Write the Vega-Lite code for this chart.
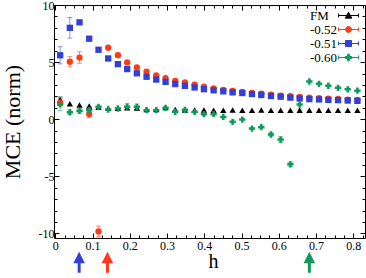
{
"$schema": "https://vega.github.io/schema/vega-lite/v6.json",
"width": 311, "height": 233,
"autosize": {"type": "none"},
"padding": {"left": 54, "top": 5, "right": 1, "bottom": 40},
"background": "white",
"config": {"view": {"stroke": null}, "font": "Liberation Serif",
  "axis": {"domainColor": "black", "tickColor": "black", "labelColor": "black", "titleColor": "black", "grid": false, "labelFont": "Liberation Serif", "titleFont": "Liberation Serif", "titleFontWeight": "normal", "labelFontSize": 12, "tickWidth": 1, "domainWidth": 1}},
"datasets": {
"pts": [
{"s":"FM","h":0.013,"v":1.7,"e":0.25},{"s":"FM","h":0.039,"v":1.35,"e":0},{"s":"FM","h":0.065,"v":1.25,"e":0},{"s":"FM","h":0.091,"v":1.15,"e":0},{"s":"FM","h":0.116,"v":1.05,"e":0},{"s":"FM","h":0.142,"v":0.97,"e":0},{"s":"FM","h":0.168,"v":0.95,"e":0},{"s":"FM","h":0.193,"v":1.0,"e":0},{"s":"FM","h":0.219,"v":0.98,"e":0},{"s":"FM","h":0.245,"v":0.85,"e":0},{"s":"FM","h":0.271,"v":0.85,"e":0},{"s":"FM","h":0.296,"v":1.02,"e":0},{"s":"FM","h":0.322,"v":0.85,"e":0},{"s":"FM","h":0.348,"v":0.8,"e":0},{"s":"FM","h":0.374,"v":0.8,"e":0},{"s":"FM","h":0.399,"v":0.8,"e":0},{"s":"FM","h":0.425,"v":0.79,"e":0},{"s":"FM","h":0.451,"v":0.79,"e":0},{"s":"FM","h":0.476,"v":0.8,"e":0},{"s":"FM","h":0.502,"v":0.79,"e":0},{"s":"FM","h":0.528,"v":0.79,"e":0},{"s":"FM","h":0.553,"v":0.8,"e":0},{"s":"FM","h":0.579,"v":0.79,"e":0},{"s":"FM","h":0.605,"v":0.79,"e":0},{"s":"FM","h":0.631,"v":0.79,"e":0},{"s":"FM","h":0.656,"v":0.79,"e":0},{"s":"FM","h":0.682,"v":0.79,"e":0},{"s":"FM","h":0.708,"v":0.79,"e":0},{"s":"FM","h":0.733,"v":0.79,"e":0},{"s":"FM","h":0.759,"v":0.79,"e":0},{"s":"FM","h":0.785,"v":0.79,"e":0},{"s":"FM","h":0.811,"v":0.79,"e":0},
{"s":"-0.52","h":0.013,"v":1.45,"e":0.3},{"s":"-0.52","h":0.039,"v":5.03,"e":0.45},{"s":"-0.52","h":0.065,"v":5.4,"e":0.5},{"s":"-0.52","h":0.091,"v":0.45,"e":0.3},{"s":"-0.52","h":0.116,"v":-9.82,"e":0.47},{"s":"-0.52","h":0.142,"v":6.26,"e":0},{"s":"-0.52","h":0.168,"v":5.61,"e":0},{"s":"-0.52","h":0.193,"v":4.97,"e":0},{"s":"-0.52","h":0.219,"v":4.53,"e":0},{"s":"-0.52","h":0.245,"v":4.17,"e":0},{"s":"-0.52","h":0.271,"v":3.83,"e":0},{"s":"-0.52","h":0.296,"v":3.6,"e":0},{"s":"-0.52","h":0.322,"v":3.35,"e":0},{"s":"-0.52","h":0.348,"v":3.22,"e":0},{"s":"-0.52","h":0.374,"v":3.03,"e":0},{"s":"-0.52","h":0.399,"v":2.86,"e":0},{"s":"-0.52","h":0.425,"v":2.7,"e":0},{"s":"-0.52","h":0.451,"v":2.57,"e":0},{"s":"-0.52","h":0.476,"v":2.47,"e":0},{"s":"-0.52","h":0.502,"v":2.4,"e":0},{"s":"-0.52","h":0.528,"v":2.3,"e":0},{"s":"-0.52","h":0.553,"v":2.23,"e":0},{"s":"-0.52","h":0.579,"v":2.14,"e":0},{"s":"-0.52","h":0.605,"v":2.06,"e":0},{"s":"-0.52","h":0.631,"v":2.01,"e":0},{"s":"-0.52","h":0.656,"v":1.95,"e":0},{"s":"-0.52","h":0.682,"v":1.89,"e":0},{"s":"-0.52","h":0.708,"v":1.85,"e":0},{"s":"-0.52","h":0.733,"v":1.8,"e":0},{"s":"-0.52","h":0.759,"v":1.77,"e":0},{"s":"-0.52","h":0.785,"v":1.72,"e":0},{"s":"-0.52","h":0.811,"v":1.68,"e":0},
{"s":"-0.51","h":0.013,"v":5.6,"e":0.75},{"s":"-0.51","h":0.039,"v":8.0,"e":0.9},{"s":"-0.51","h":0.065,"v":8.48,"e":0},{"s":"-0.51","h":0.091,"v":7.05,"e":0},{"s":"-0.51","h":0.116,"v":6.08,"e":0},{"s":"-0.51","h":0.142,"v":5.32,"e":0},{"s":"-0.51","h":0.168,"v":4.82,"e":0},{"s":"-0.51","h":0.193,"v":4.39,"e":0},{"s":"-0.51","h":0.219,"v":4.02,"e":0},{"s":"-0.51","h":0.245,"v":3.72,"e":0},{"s":"-0.51","h":0.271,"v":3.47,"e":0},{"s":"-0.51","h":0.296,"v":3.27,"e":0},{"s":"-0.51","h":0.322,"v":3.08,"e":0},{"s":"-0.51","h":0.348,"v":2.92,"e":0},{"s":"-0.51","h":0.374,"v":2.78,"e":0},{"s":"-0.51","h":0.399,"v":2.63,"e":0},{"s":"-0.51","h":0.425,"v":2.53,"e":0},{"s":"-0.51","h":0.451,"v":2.44,"e":0},{"s":"-0.51","h":0.476,"v":2.35,"e":0},{"s":"-0.51","h":0.502,"v":2.29,"e":0},{"s":"-0.51","h":0.528,"v":2.2,"e":0},{"s":"-0.51","h":0.553,"v":2.12,"e":0},{"s":"-0.51","h":0.579,"v":2.03,"e":0},{"s":"-0.51","h":0.605,"v":1.97,"e":0},{"s":"-0.51","h":0.631,"v":1.89,"e":0},{"s":"-0.51","h":0.656,"v":1.82,"e":0},{"s":"-0.51","h":0.682,"v":1.76,"e":0},{"s":"-0.51","h":0.708,"v":1.73,"e":0},{"s":"-0.51","h":0.733,"v":1.69,"e":0},{"s":"-0.51","h":0.759,"v":1.67,"e":0},{"s":"-0.51","h":0.785,"v":1.64,"e":0},{"s":"-0.51","h":0.811,"v":1.61,"e":0},
{"s":"-0.60","h":0.013,"v":1.3,"e":0.55},{"s":"-0.60","h":0.039,"v":0.61,"e":0.2},{"s":"-0.60","h":0.065,"v":0.73,"e":0.2},{"s":"-0.60","h":0.091,"v":0.79,"e":0.25},{"s":"-0.60","h":0.116,"v":1.08,"e":0},{"s":"-0.60","h":0.142,"v":0.85,"e":0},{"s":"-0.60","h":0.168,"v":0.94,"e":0},{"s":"-0.60","h":0.193,"v":1.1,"e":0.25},{"s":"-0.60","h":0.219,"v":1.08,"e":0.25},{"s":"-0.60","h":0.245,"v":0.79,"e":0},{"s":"-0.60","h":0.271,"v":0.79,"e":0},{"s":"-0.60","h":0.296,"v":1.0,"e":0},{"s":"-0.60","h":0.322,"v":0.65,"e":0},{"s":"-0.60","h":0.348,"v":0.82,"e":0},{"s":"-0.60","h":0.374,"v":0.64,"e":0},{"s":"-0.60","h":0.399,"v":0.44,"e":0},{"s":"-0.60","h":0.425,"v":0.44,"e":0},{"s":"-0.60","h":0.451,"v":0.2,"e":0},{"s":"-0.60","h":0.476,"v":-0.23,"e":0},{"s":"-0.60","h":0.502,"v":-0.03,"e":0},{"s":"-0.60","h":0.528,"v":-0.82,"e":0},{"s":"-0.60","h":0.553,"v":-0.7,"e":0},{"s":"-0.60","h":0.579,"v":-1.34,"e":0.15},{"s":"-0.60","h":0.605,"v":-1.78,"e":0.25},{"s":"-0.60","h":0.631,"v":-3.95,"e":0.2},{"s":"-0.60","h":0.656,"v":1.29,"e":0.4},{"s":"-0.60","h":0.682,"v":3.3,"e":0},{"s":"-0.60","h":0.708,"v":3.1,"e":0},{"s":"-0.60","h":0.733,"v":2.93,"e":0},{"s":"-0.60","h":0.759,"v":2.75,"e":0},{"s":"-0.60","h":0.785,"v":2.62,"e":0},{"s":"-0.60","h":0.811,"v":2.5,"e":0}
],
"arrows": [
{"s":"-0.51","h":0.064,"v":-12.52},{"s":"-0.52","h":0.14,"v":-12.52},{"s":"-0.60","h":0.682,"v":-12.52}
]
},
"layer": [
{
"encoding": {
  "x": {"field": "h", "type": "quantitative", "scale": {"domain": [-0.0035, 0.8314], "nice": false, "zero": false},
    "axis": {"orient": "bottom", "title": "h", "titleFontSize": 20, "titleBaseline": "alphabetic", "titleY": 29, "titleX": 159,
      "values": [0,0.025,0.05,0.075,0.1,0.125,0.15,0.175,0.2,0.225,0.25,0.275,0.3,0.325,0.35,0.375,0.4,0.425,0.45,0.475,0.5,0.525,0.55,0.575,0.6,0.625,0.65,0.675,0.7,0.725,0.75,0.775,0.8,0.825],
      "labelExpr": "abs(datum.value*10 - round(datum.value*10)) < 0.001 ? (datum.value === 0 ? '0' : format(datum.value, '.1f')) : ''",
      "labelOverlap": false, "labelFlush": false, "labelBound": false, "labelPadding": 7,
      "tickSize": {"condition": {"test": "abs(datum.value*10 - round(datum.value*10)) < 0.001", "value": -5}, "value": -3}}},
  "y": {"field": "v", "type": "quantitative", "scale": {"domain": [-10.4, 10], "nice": false, "zero": false},
    "axis": {"orient": "left", "title": "MCE (norm)", "titleFontSize": 22, "titleBaseline": "alphabetic", "titleX": -34.5, "titleAngle": -90,
      "values": [-10,-9,-8,-7,-6,-5,-4,-3,-2,-1,0,1,2,3,4,5,6,7,8,9,10],
      "labelExpr": "datum.value % 5 === 0 ? '' + datum.value : ''",
      "labelOverlap": false, "labelFlush": false, "labelBound": false, "labelPadding": 5,
      "tickSize": {"condition": {"test": "datum.value % 5 === 0", "value": -5}, "value": -3}}},
  "color": {"field": "s", "type": "nominal",
    "scale": {"domain": ["FM", "-0.52", "-0.51", "-0.60"], "range": ["#000000", "#ff3a14", "#3240d4", "#0f9a5c"]},
    "legend": null}
},
"layer": [
  {"data": {"name": "pts"}, "transform": [{"filter": "datum.e > 0"}],
   "mark": {"type": "errorbar", "ticks": true, "size": 5, "thickness": 1, "opacity": 0.55},
   "encoding": {"yError": {"field": "e"}}},
  {"data": {"name": "pts"},
   "mark": {"type": "point", "filled": true, "opacity": 1, "size": 40},
   "encoding": {"shape": {"field": "s", "type": "nominal", "scale": {"domain": ["FM", "-0.52", "-0.51", "-0.60"], "range": ["triangle-up", "circle", "square", "cross"]}, "legend": null}}},
  {"data": {"name": "arrows"},
   "mark": {"type": "point", "filled": true, "opacity": 1, "size": 441, "shape": "M0,-1L0.55,0.1L0.14,0.1L0.14,1L-0.14,1L-0.14,0.1L-0.55,0.1Z"}}
]
},
{
"data": {"name": "pts"},
"mark": {"type": "point", "opacity": 0, "filled": true, "size": 44, "strokeWidth": 1},
"encoding": {
  "x": {"field": "h", "type": "quantitative", "scale": {"domain": [-0.0035, 0.8314], "nice": false, "zero": false},
    "axis": {"orient": "top", "title": null, "labels": false,
      "values": [0,0.025,0.05,0.075,0.1,0.125,0.15,0.175,0.2,0.225,0.25,0.275,0.3,0.325,0.35,0.375,0.4,0.425,0.45,0.475,0.5,0.525,0.55,0.575,0.6,0.625,0.65,0.675,0.7,0.725,0.75,0.775,0.8,0.825],
      "tickSize": {"condition": {"test": "abs(datum.value*10 - round(datum.value*10)) < 0.001", "value": -5}, "value": -3}}},
  "y": {"field": "v", "type": "quantitative", "scale": {"domain": [-10.4, 10], "nice": false, "zero": false},
    "axis": {"orient": "right", "title": null, "labels": false,
      "values": [-10,-9,-8,-7,-6,-5,-4,-3,-2,-1,0,1,2,3,4,5,6,7,8,9,10],
      "tickSize": {"condition": {"test": "datum.value % 5 === 0", "value": -5}, "value": -3}}},
  "color": {"field": "s", "type": "nominal",
    "scale": {"domain": ["FM", "-0.52", "-0.51", "-0.60"], "range": ["#000000", "#ff3a14", "#3240d4", "#0f9a5c"]},
    "legend": {"orient": "none", "legendX": 245.5, "legendY": 4, "title": null, "padding": 0, "rowPadding": -2.7,
      "labelFont": "Liberation Serif", "labelFontSize": 13, "labelColor": "black",
      "symbolSize": 44, "symbolOffset": 42.5, "labelOffset": -45, "symbolStrokeWidth": 1, "symbolOpacity": 1}},
  "stroke": {"field": "s", "type": "nominal",
    "scale": {"domain": ["FM", "-0.52", "-0.51", "-0.60"], "range": ["#000000", "#ff3a14", "#3240d4", "#0f9a5c"]},
    "legend": {"orient": "none", "legendX": 245.5, "legendY": 4, "title": null, "padding": 0, "rowPadding": -2.7,
      "labelFont": "Liberation Serif", "labelFontSize": 13, "labelColor": "black",
      "symbolSize": 44, "symbolOffset": 42.5, "labelOffset": -45, "symbolStrokeWidth": 1, "symbolOpacity": 1}},
  "shape": {"field": "s", "type": "nominal",
    "scale": {"domain": ["FM", "-0.52", "-0.51", "-0.60"], "range": [
      "M-3,0L3,0M-3,-0.6L-3,0.6M3,-0.6L3,0.6M0,-1L1,0.8L-1,0.8Z",
      "M-3,0L3,0M-3,-0.6L-3,0.6M3,-0.6L3,0.6M-0.9,0a0.9,0.9 0 1,0 1.8,0a0.9,0.9 0 1,0 -1.8,0Z",
      "M-3,0L3,0M-3,-0.6L-3,0.6M3,-0.6L3,0.6M-0.9,-0.9L0.9,-0.9L0.9,0.9L-0.9,0.9Z",
      "M-3,0L3,0M-3,-0.6L-3,0.6M3,-0.6L3,0.6M-0.3,-1L0.3,-1L0.3,-0.3L1,-0.3L1,0.3L0.3,0.3L0.3,1L-0.3,1L-0.3,0.3L-1,0.3L-1,-0.3L-0.3,-0.3Z"]},
    "legend": {"orient": "none", "legendX": 245.5, "legendY": 4, "title": null, "padding": 0, "rowPadding": -2.7,
      "labelFont": "Liberation Serif", "labelFontSize": 13, "labelColor": "black",
      "symbolSize": 44, "symbolOffset": 42.5, "labelOffset": -45, "symbolStrokeWidth": 1, "symbolOpacity": 1}}
}
}
],
"resolve": {"axis": {"x": "independent", "y": "independent"}, "scale": {"color": "independent", "shape": "independent", "stroke": "independent"}}
}
